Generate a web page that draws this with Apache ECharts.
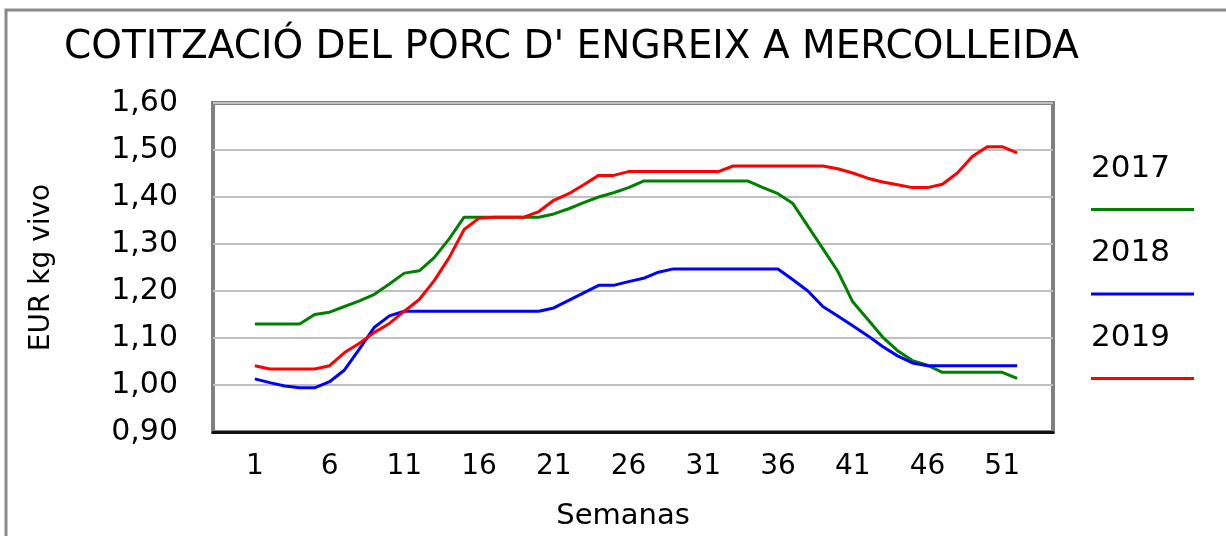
<!DOCTYPE html>
<html>
<head>
<meta charset="utf-8">
<script src="https://cdn.jsdelivr.net/npm/echarts@6/dist/echarts.min.js"></script>
<style>
  html, body { margin: 0; padding: 0; background: #fff; }
  #main { width: 1226px; height: 536px; }
</style>
</head>
<body>
<div id="main"></div>
<script>
// semanas 1..52
var weeks = [];
for (var w = 1; w <= 52; w++) weeks.push(w);

var seriesNames = ['2017', '2018', '2019'];
var seriesColors = ['#008000', '#0000ff', '#ff0000'];

// EUR/kg vivo, llegit del gràfic
var v2017 = [1.13, 1.13, 1.13, 1.13, 1.15, 1.155, 1.167, 1.179, 1.193, 1.215,
  1.238, 1.243, 1.271, 1.311, 1.357, 1.357, 1.357, 1.357, 1.357, 1.357,
  1.364, 1.375, 1.388, 1.40, 1.409, 1.42, 1.434, 1.434, 1.434, 1.434,
  1.434, 1.434, 1.434, 1.434, 1.42, 1.407, 1.386, 1.338, 1.29, 1.242,
  1.177, 1.14, 1.102, 1.073, 1.052, 1.042, 1.027, 1.027, 1.027, 1.027,
  1.027, 1.014];
var v2018 = [1.013, 1.005, 0.998, 0.994, 0.994, 1.007, 1.032, 1.077, 1.123, 1.147,
  1.157, 1.157, 1.157, 1.157, 1.157, 1.157, 1.157, 1.157, 1.157, 1.157,
  1.164, 1.18, 1.196, 1.212, 1.212, 1.22, 1.227, 1.24, 1.247, 1.247,
  1.247, 1.247, 1.247, 1.247, 1.247, 1.247, 1.224, 1.20, 1.167, 1.147,
  1.126, 1.105, 1.082, 1.062, 1.047, 1.041, 1.041, 1.041, 1.041, 1.041,
  1.041, 1.041];
var v2019 = [1.041, 1.034, 1.034, 1.034, 1.034, 1.041, 1.069, 1.089, 1.112, 1.131,
  1.157, 1.182, 1.222, 1.271, 1.331, 1.355, 1.357, 1.357, 1.357, 1.369,
  1.393, 1.407, 1.426, 1.446, 1.446, 1.454, 1.454, 1.454, 1.454, 1.454,
  1.454, 1.454, 1.466, 1.466, 1.466, 1.466, 1.466, 1.466, 1.466, 1.46,
  1.451, 1.44, 1.432, 1.426, 1.42, 1.42, 1.427, 1.451, 1.486, 1.507,
  1.507, 1.494];

var xTickLabels = [1, 6, 11, 16, 21, 26, 31, 36, 41, 46, 51];
var yTickLabels = ['0,90', '1,00', '1,10', '1,20', '1,30', '1,40', '1,50', '1,60'];

var font = 'DejaVu Sans';
var allValues = [v2017, v2018, v2019];

function pairs(vals) {
  return weeks.map(function (w, i) { return [w, vals[i]]; });
}

var chart = echarts.init(document.getElementById('main'), null, { renderer: 'canvas' });

var option = {
  backgroundColor: '#fff',
  animation: false,
  title: {
    text: "COTITZACIÓ DEL PORC D' ENGREIX A MERCOLLEIDA",
    left: 64,
    top: 28,
    padding: 0,
    textStyle: { fontFamily: font, fontSize: 39, fontWeight: 'normal', color: '#000' }
  },
  // marc exterior del gràfic
  graphic: [{
    type: 'rect',
    shape: { x: 6, y: 10, width: 1300, height: 600 },
    style: { fill: 'none', stroke: '#8a8a8a', lineWidth: 3 },
    silent: true
  }],
  legend: {
    orient: 'vertical',
    left: 1081,
    top: 148,
    itemWidth: 0,
    itemHeight: 0,
    itemGap: 22,
    icon: 'rect',
    selectedMode: false,
    data: seriesNames,
    formatter: function (name) {
      return '{n|' + name + '}\n{l' + seriesNames.indexOf(name) + '|}';
    },
    textStyle: {
      rich: {
        n: { fontFamily: font, fontSize: 31, color: '#000', lineHeight: 40 },
        l0: { width: 103, height: 3, lineHeight: 42, backgroundColor: seriesColors[0] },
        l1: { width: 103, height: 3, lineHeight: 42, backgroundColor: seriesColors[1] },
        l2: { width: 103, height: 3, lineHeight: 42, backgroundColor: seriesColors[2] }
      }
    }
  },
  grid: {
    left: 213,
    right: 173,
    top: 103,
    bottom: 104,
    containLabel: false,
    outerBoundsMode: 'none',
    show: true,
    borderColor: '#808080',
    borderWidth: 4
  },
  xAxis: {
    type: 'value',
    min: -1.8,
    max: 54.4,
    name: 'Semanas',
    nameLocation: 'middle',
    nameGap: 70,
    nameTextStyle: { fontFamily: font, fontSize: 29, color: '#000', padding: [0, 20, 0, 0] },
    axisLine: { show: true, onZero: false, lineStyle: { color: '#111', width: 3 } },
    axisTick: { show: false },
    splitLine: { show: false },
    axisLabel: {
      customValues: xTickLabels,
      margin: 21,
      fontFamily: font,
      fontSize: 28,
      color: '#000'
    }
  },
  yAxis: {
    type: 'value',
    min: 0.9,
    max: 1.6,
    interval: 0.1,
    name: 'EUR kg vivo',
    nameLocation: 'middle',
    nameGap: 157,
    nameTextStyle: { fontFamily: font, fontSize: 28, color: '#000' },
    axisLine: { show: false },
    axisTick: { show: false },
    splitLine: { show: true, lineStyle: { color: '#c0c0c0', width: 2 } },
    axisLabel: {
      margin: 35,
      fontFamily: font,
      fontSize: 30,
      color: '#000',
      formatter: function (v) {
        return yTickLabels[Math.round((v - 0.9) * 10)];
      }
    }
  },
  series: seriesNames.map(function (name, i) {
    return {
      name: name,
      type: 'line',
      data: pairs(allValues[i]),
      symbol: 'none',
      color: seriesColors[i],
      lineStyle: { color: seriesColors[i], width: 3 }
    };
  })
};

chart.setOption(option);
</script>
</body>
</html>
